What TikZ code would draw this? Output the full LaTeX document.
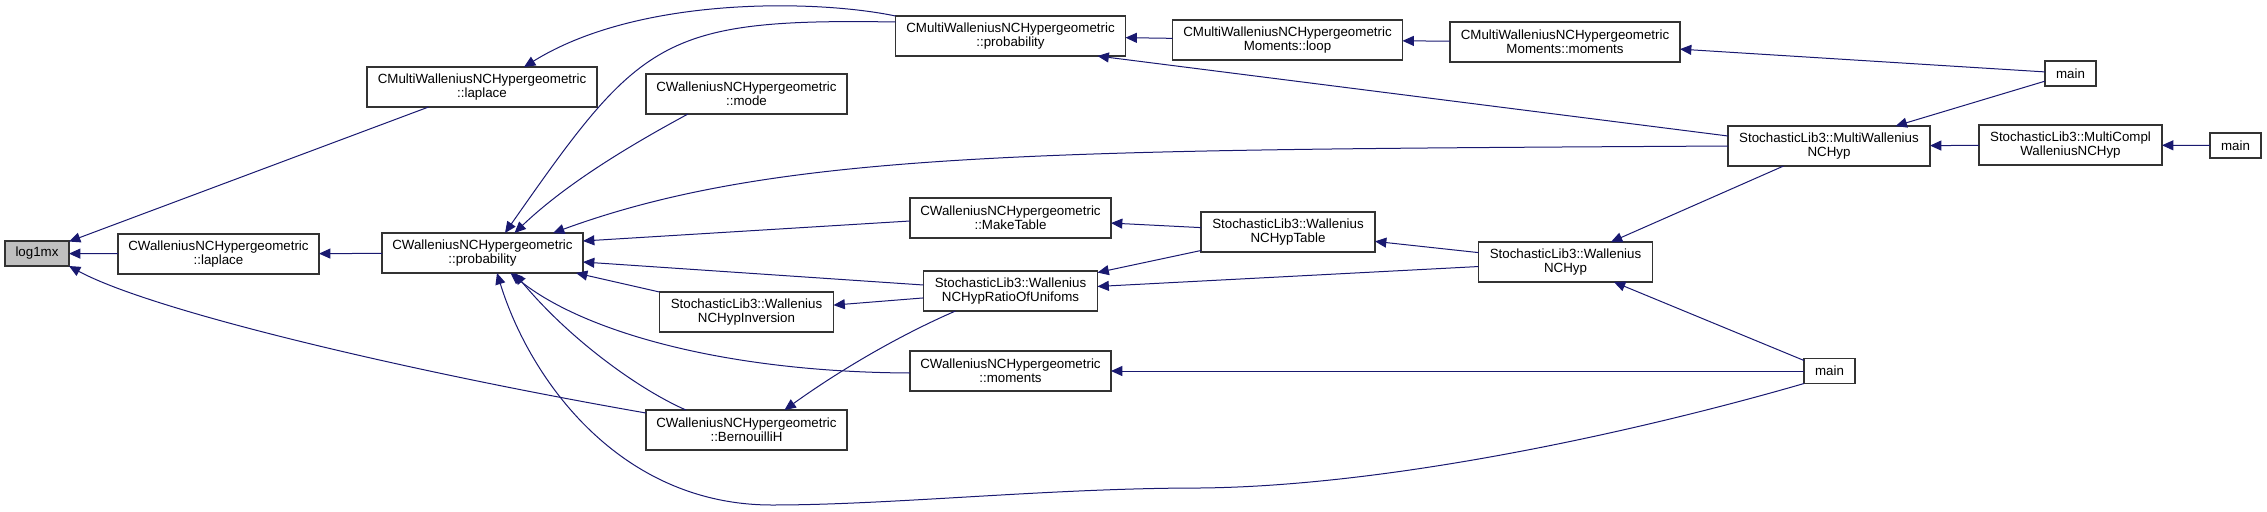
\documentclass[tikz,border=0pt]{standalone}
\usepackage{fontspec}
\setmainfont{Liberation Sans}
\usepackage{tikz}
\usetikzlibrary{arrows.meta,calc}
\definecolor{edge}{HTML}{191970}
\definecolor{frame}{HTML}{333333}
\definecolor{rootbg}{HTML}{BFBFBF}

\begin{document}
\begin{tikzpicture}[x=0.75pt,y=-0.75pt,font=\fontsize{10}{10.5}\selectfont,
  b/.style={draw=frame,fill=white,line width=0.8pt,inner sep=0pt,outer sep=0pt,minimum height=30pt,align=center},
  wbox/.style={b,minimum width=150.75pt},
  mbox/.style={b,minimum width=172.5pt},
  sbox/.style={b,minimum width=130.5pt},
  mainbox/.style={b,minimum width=38.25pt,minimum height=18.75pt},
  rootbox/.style={mainbox,fill=rootbg,minimum width=48pt},
  a/.style={-{Triangle[length=8.5pt,width=7.5pt]},edge,line width=0.75pt}]
\useasboundingbox (0,0) rectangle (2267,511);
\node[rootbox] (log1mx)     at (37,253.5)   {log1mx};
\node[wbox] (cwlaplace)  at (218.5,254)  {CWalleniusNCHypergeometric\\::laplace};
\node[mbox] (cmlaplace)  at (482,87)     {CMultiWalleniusNCHypergeometric\\::laplace};
\node[wbox] (cwprob)     at (482.5,253)  {CWalleniusNCHypergeometric\\::probability};
\node[mbox] (cmprob)     at (1010.5,36)  {CMultiWalleniusNCHypergeometric\\::probability};
\node[wbox] (mode)       at (746.5,94)   {CWalleniusNCHypergeometric\\::mode};
\node[wbox] (maketable)  at (1010.5,218) {CWalleniusNCHypergeometric\\::MakeTable};
\node[sbox] (ratio)      at (1010.5,291) {StochasticLib3::Wallenius\\NCHypRatioOfUnifoms};
\node[sbox] (inversion)  at (746.5,312)  {StochasticLib3::Wallenius\\NCHypInversion};
\node[wbox] (cwmoments)  at (1010.5,371) {CWalleniusNCHypergeometric\\::moments};
\node[wbox] (bernouilli) at (746.5,430)  {CWalleniusNCHypergeometric\\::BernouilliH};
\node[mbox] (loop)       at (1287.5,40)  {CMultiWalleniusNCHypergeometric\\Moments::loop};
\node[mbox] (mmoments)   at (1565,42)    {CMultiWalleniusNCHypergeometric\\Moments::moments};
\node[sbox] (hyptable)   at (1288,232)   {StochasticLib3::Wallenius\\NCHypTable};
\node[sbox] (hyp)        at (1565.5,262) {StochasticLib3::Wallenius\\NCHyp};
\node[b,minimum width=151.5pt]  (multihyp)   at (1829,146)   {StochasticLib3::MultiWallenius\\NCHyp};
\node[b,minimum width=137.25pt] (multicompl) at (2070.5,145) {StochasticLib3::MultiCompl\\WalleniusNCHyp};
\node[mainbox] (mainA) at (2070.5,73.5)  {main};
\node[mainbox] (mainB) at (2235.5,145.5) {main};
\node[mainbox] (mainC) at (1829.5,371)   {main};
\draw[a] (cwlaplace) -- (log1mx);
\draw[a] (cmlaplace) -- (log1mx);
\draw[a] ($(bernouilli.north west)+(0,3)$) .. controls (400,370) and (150,310) .. (log1mx.south east);
\draw[a] (cwprob) -- (cwlaplace);
\draw[a] (cmprob.north west) .. controls (820,0) and (640,-5) .. ($(cmlaplace.north)+(42,0)$);
\draw[a] ($(cmprob.west)+(0,-14)$) .. controls (660,18) and (640,40) .. ($(cwprob.north)+(22.5,0)$);
\draw[a] ($(mode.south west)+(42,0)$) .. controls (640,140) and (570,180) .. ($(cwprob.north)+(32,0)$);
\draw[a] (multihyp.west) .. controls (1050,150) and (780,150) .. ($(cwprob.north east)+(-30,0)$);
\draw[a] ($(maketable.west)+(0,3)$) -- ($(cwprob.east)+(0,-12)$);
\draw[a] ($(ratio.west)+(0,-6)$) -- ($(cwprob.east)+(0,9)$);
\draw[a] (inversion.north west) -- ($(cwprob.south east)+(-7,0)$);
\draw[a] ($(cwmoments.west)+(0,2)$) .. controls (720,372) and (580,330) .. ($(cwprob.south)+(28,0)$);
\draw[a] ($(bernouilli.north west)+(40,0)$) .. controls (640,390) and (570,340) .. ($(cwprob.south)+(32,0)$);
\draw[a] (mainC.south west) .. controls (1654,427) and (1400,486) .. (1200,488)
  .. controls (1050,488) and (892,505) .. (772,505)
  .. controls (620,505) and (530,380) .. ($(cwprob.south)+(14.5,0)$);
\draw[a] (mainC) -- (cwmoments);
\draw[a] (mainC) -- (hyp);
\draw[a] (multihyp) -- (hyp);
\draw[a] ($(multihyp.west)+(0,-10)$) -- ($(cmprob.south east)+(-28,0)$);
\draw[a] (loop) -- (cmprob);
\draw[a] (mmoments) -- (loop);
\draw[a] (mainA) -- (mmoments);
\draw[a] (mainA) -- (multihyp);
\draw[a] (multicompl) -- (multihyp);
\draw[a] (mainB) -- (multicompl);
\draw[a] (hyptable) -- (maketable);
\draw[a] (hyptable) -- (ratio);
\draw[a] (hyp) -- (hyptable);
\draw[a] (hyp) -- (ratio);
\draw[a] (ratio) -- (inversion);
\draw[a] ($(ratio.south west)+(32,0)$) .. controls (900,335) and (840,370) .. ($(bernouilli.north)+(38,0)$);
\end{tikzpicture}
\end{document}
